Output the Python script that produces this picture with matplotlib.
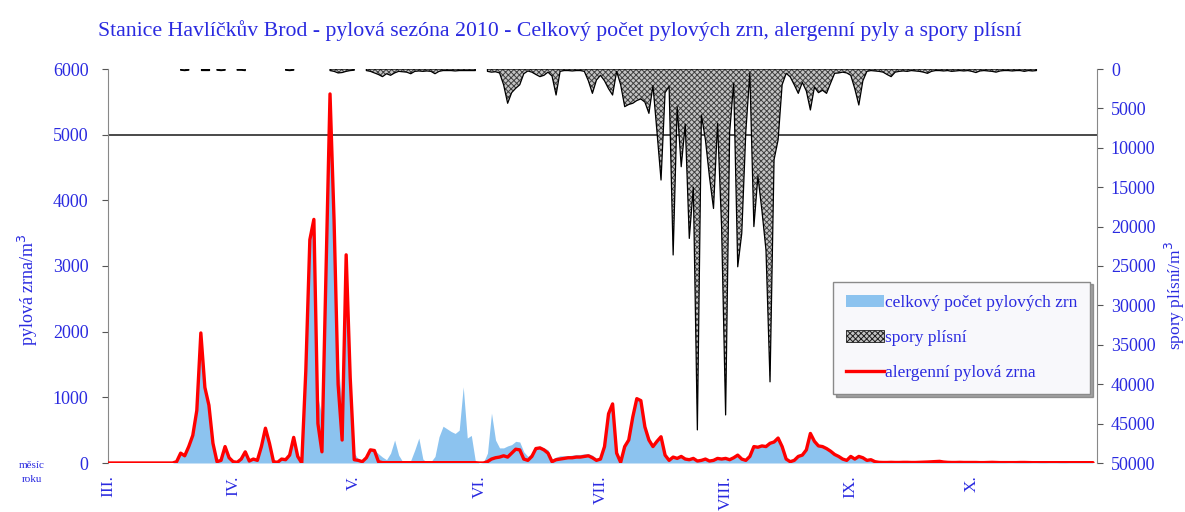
import numpy as np
import matplotlib
matplotlib.use("Agg")
import matplotlib.pyplot as plt
from matplotlib.patches import Patch
from matplotlib.lines import Line2D

N = np.nan

# denní hodnoty 1.3. - 31.10.2010
month_starts = [0, 31, 61, 92, 122, 153, 184, 214]
month_labels = ["III.", "IV.", "V.", "VI.", "VII.", "VIII.", "IX.", "X."]

# celkový počet pylových zrn / m3
total_pollen = (
    [0] * 17 + [30, 160, 130, 280, 480, 900, 1985, 1200, 900, 350, 40, 60, 260, 100]  # III.
    + [40, 20, 80, 180, 50, 70, 60, 270, 540, 320, 40, 20, 80, 70, 140, 400, 120, 10, 1450, 3420,
       3720, 1000, 700, 2950, 5640, 3750, 1500, 900, 3180, 1350]  # IV.
    + [150, 60, 40, 100, 220, 200, 140, 90, 50, 150, 350, 120, 20, 10, 40, 200, 380, 60, 10, 20,
       100, 400, 560, 520, 480, 450, 500, 1160, 380, 420, 30]  # V.
    + [0, 10, 150, 760, 350, 230, 230, 260, 280, 330, 320, 170, 100, 150, 230, 260, 230, 200, 60, 90,
       110, 110, 110, 120, 130, 130, 140, 140, 120, 70]  # VI.
    + [80, 280, 770, 910, 200, 30, 280, 380, 720, 990, 960, 580, 380, 280, 350, 410, 140, 60, 100, 80,
       110, 70, 60, 80, 40, 50, 70, 40, 50, 80, 70]  # VII.
    + [80, 60, 90, 130, 70, 50, 110, 260, 250, 270, 260, 310, 330, 390, 260, 70, 30, 50, 110, 130,
       210, 460, 340, 270, 260, 230, 190, 140, 110, 70, 50]  # VIII.
    + [110, 70, 110, 90, 50, 60, 25, 12, 10, 10, 12, 10, 10, 12, 12, 10, 10, 12, 14, 18,
       20, 22, 28, 18, 12, 10, 10, 12, 10, 10]  # IX.
    + [10, 10, 8, 8, 10, 12, 10, 8, 8, 6, 6, 8, 10, 10, 8, 6, 6, 8, 8, 6,
       6, 6, 8, 8, 6, 6, 6, 6, 6, 6, 6]  # X.
)

# alergenní pylová zrna / m3
allergen_pollen = (
    [0] * 17 + [20, 150, 110, 250, 420, 800, 1980, 1150, 880, 300, 20, 40, 250, 80]
    + [20, 10, 60, 170, 30, 60, 40, 250, 530, 300, 20, 10, 60, 50, 120, 390, 100, 0, 1400, 3400,
       3710, 600, 170, 2900, 5620, 3700, 1200, 350, 3170, 1300]
    + [50, 40, 20, 80, 200, 190, 20] + [5] * 24
    + [0, 0, 20, 60, 80, 90, 110, 90, 150, 210, 200, 60, 40, 100, 220, 230, 200, 150, 20, 50,
       60, 70, 80, 80, 90, 90, 100, 110, 80, 40]
    + [60, 250, 750, 900, 150, 10, 250, 350, 700, 980, 950, 550, 350, 250, 330, 400, 120, 40, 90, 70,
       100, 60, 50, 70, 30, 40, 60, 30, 40, 70, 60]
    + [70, 50, 80, 120, 60, 40, 100, 250, 240, 260, 250, 300, 320, 380, 250, 60, 20, 40, 100, 120,
       200, 450, 330, 260, 250, 220, 180, 130, 100, 60, 40]
    + [100, 60, 100, 80, 40, 50, 20, 10, 8, 8, 10, 8, 8, 10, 10, 8, 8, 10, 12, 15,
       18, 20, 25, 15, 10, 8, 8, 10, 8, 8]
    + [8, 8, 6, 6, 8, 10, 8, 6, 6, 5, 5, 6, 8, 8, 6, 5, 5, 6, 6, 5,
       5, 5, 6, 6, 5, 5, 5, 5, 5, 5, 5]
)

# spory plísní / m3 (N = bez měření)
mold_spores = (
    [N] * 18 + [150, 200, 150, N, N, 150, 150, 150, N, 150, 200, 150, N]
    + [N, 150, 150, 200] + [N] * 9 + [150, 200, 150] + [N] * 8 + [200, 300, 500, 450, 300, 200]
    + [150, N, N, 200, 300, 500, 700, 970, 600, 800, 500, 300, 350,
       400, 600, 300, 250, 300, 250, 300, 600, 300, 200, 200, 200, 250, 200, 200, 200, 200, 200]
    + [N, N, 300, 400, 350, 500, 2000, 4350, 3000, 2450, 2000, 600,
       250, 400, 700, 970, 800, 400, 900, 3300, 300, 200, 200, 250, 200, 200, 300, 1500, 3090, 1400]
    + [800, 1500, 2500, 3300, 300, 2000, 4780, 4500, 4350, 4000, 3800, 4200, 5630, 2100, 8000,
       14090, 3000, 2200, 23600, 4800, 12400, 7000, 21500, 15000, 45800, 5840, 9000, 13700, 17700,
       6900, 20000]
    + [43900, 8000, 1800, 25100, 20850, 8000, 500, 20000, 13600, 18000, 23000, 39700, 11500, 9000,
       2000, 550, 1000, 2000, 3090, 1700, 2800, 5200, 2300, 3000, 2700, 3090, 1800, 550, 500, 400, 500]
    + [800, 2500, 4570, 1500, 300, 200, 250, 300, 400, 700, 970, 400, 300, 250, 300, 200, 250, 300,
       400, 550, 300, 200, 200, 250, 200, 300, 250, 200, 250, 200]
    + [300, 450, 250, 200, 250, 300, 400, 250, 200, 200, 250, 200, 200, 300, 200, 250, 200] + [N] * 14
)

days = np.arange(len(total_pollen))

blue_txt = "#2a2ae0"
pollen_blue = "#8cc3ef"
spore_face = "#c4c4c4"
plt.rcParams["font.family"] = ["Liberation Serif", "DejaVu Serif"]
plt.rcParams["hatch.linewidth"] = 0.7

fig = plt.figure(figsize=(11.85, 5.12), dpi=100)
ax = fig.add_axes([108 / 1185, 1 - 463 / 512, 989 / 1185, 394 / 512])

ax.fill_between(days, 0, total_pollen, color=pollen_blue, lw=0, zorder=1)
ax.plot(days, allergen_pollen, color="red", lw=2.4, zorder=3,
        solid_joinstyle="round", solid_capstyle="round")
ax.axhline(5000, color="#3a3a3a", lw=1.3, zorder=2)

ax.set_xlim(0, 245)
ax.set_ylim(0, 6000)
ax.set_yticks(range(0, 6001, 1000))
ax.set_xticks(month_starts)
ax.set_xticklabels(month_labels, rotation=90, color=blue_txt, fontsize=12.5)
ax.tick_params(axis="x", length=0, pad=9)
ax.tick_params(axis="y", colors="#555555", labelcolor=blue_txt, labelsize=13, length=4, pad=10)
for s in ["top", "right", "bottom"]:
    ax.spines[s].set_visible(False)
ax.spines["left"].set_color("#888888")

# spory: vzorovaná výplň a černý obrys zvlášť
ax2 = ax.twinx()
ax2.fill_between(days, 0, mold_spores, facecolor=spore_face, edgecolor="#404040",
                 hatch="xxxxxx", lw=0, zorder=2)
ax2.fill_between(days, 0, mold_spores, facecolor="none", edgecolor="black", lw=0.9, zorder=3)
ax2.set_ylim(50000, 0)
ax2.set_yticks(range(0, 50001, 5000))
ax2.tick_params(axis="y", colors="#555555", labelcolor=blue_txt, labelsize=13, length=4, pad=6)
for s in ["top", "left", "bottom"]:
    ax2.spines[s].set_visible(False)
ax2.spines["right"].set_color("#888888")

handles = [
    Patch(facecolor=pollen_blue, edgecolor="none"),
    Patch(facecolor=spore_face, edgecolor="#202020", hatch="xxxxxx", lw=0.6),
    Line2D([0], [0], color="red", lw=2.4),
]
labels = ["celkový počet pylových zrn", "spory plísní", "alergenní pylová zrna"]
leg = ax2.legend(handles, labels, loc="center left",
                 bbox_to_anchor=(833 / 1185, 1 - 338 / 512), bbox_transform=fig.transFigure,
                 fontsize=12.5, frameon=True, fancybox=False, shadow=True,
                 handlelength=2.2, handleheight=0.7, handletextpad=0.05,
                 labelspacing=1.1, borderpad=0.75, borderaxespad=0)
leg.get_frame().set_edgecolor("#8a8a8a")
leg.get_frame().set_facecolor("#f8f8fb")
for t in leg.get_texts():
    t.set_color(blue_txt)

fig.text(0.5 * (92 + 1028) / 1185, 1 - 31 / 512,
         "Stanice Havlíčkův Brod - pylová sezóna 2010 - Celkový počet pylových zrn, alergenní pyly a spory plísní",
         ha="center", va="center", color=blue_txt, fontsize=15.7)
fig.text(28 / 1185, 1 - 290 / 512, "pylová zrna/m$^3$", rotation=90,
         ha="center", va="center", color=blue_txt, fontsize=13)
fig.text(1175 / 1185, 1 - 296 / 512, "spory plísní/m$^3$", rotation=90,
         ha="center", va="center", color=blue_txt, fontsize=12.5)
fig.text(32 / 1185, 1 - 465 / 512, "měsíc", ha="center", va="center", color=blue_txt, fontsize=8)
fig.text(32 / 1185, 1 - 480 / 512, "roku", ha="center", va="center", color=blue_txt, fontsize=8)

fig.savefig("out.png", dpi=100, facecolor="white")
